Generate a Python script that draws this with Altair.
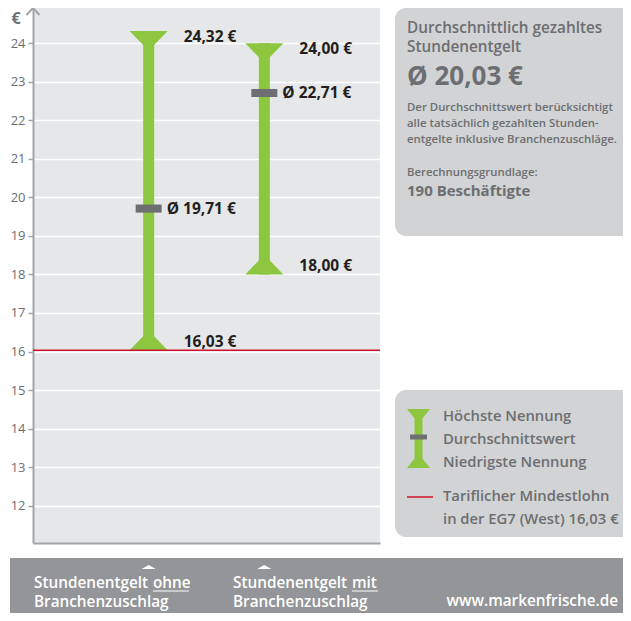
import altair as alt
import pandas as pd

# ---------------- data ----------------
categories = ["Stundenentgelt ohne Branchenzuschlag", "Stundenentgelt mit Branchenzuschlag"]
positions = [1, 2]
highest = [24.32, 24.00]
lowest = [16.03, 18.00]
average = [19.71, 22.71]
high_labels = ["24,32 €", "24,00 €"]
low_labels = ["16,03 €", "18,00 €"]
avg_labels = ["Ø 19,71 €", "Ø 22,71 €"]
min_wage = [16.03]
y_ticks = [12, 13, 14, 15, 16, 17, 18, 19, 20, 21, 22, 23, 24]

df = pd.DataFrame({
    "cat": categories, "pos": positions, "high": highest, "low": lowest,
    "avg": average, "hl": high_labels, "ll": low_labels, "al": avg_labels,
})
wage_df = pd.DataFrame({"wage": min_wage})
one = pd.DataFrame({"a": [0]})

# ---------------- styles ----------------
GREEN = "#8dc63f"
GREY_TXT = "#6d6e71"
DARK = "#231f20"
PLOT_BG = "#e6e7e8"
BOX = "#d1d3d4"
BAND = "#939598"
AXIS = "#a2a4a7"
RED = "#d0112b"
FONT = "Open Sans"

W, H = 347, 535

xscale = alt.Scale(domain=[0, 3], nice=False, zero=False)
yscale = alt.Scale(domain=[11.03, 24.916], nice=False, zero=False)

XAXIS = alt.Axis(title=None, labels=False, ticks=False, grid=False,
                 domain=True, domainColor=AXIS, domainWidth=2)
YAXIS = alt.Axis(title=None, values=y_ticks, grid=True, gridColor="white",
                 gridWidth=1.5, domainColor=AXIS, domainWidth=2,
                 tickColor=AXIS, tickSize=5, tickWidth=1.5,
                 labelColor=GREY_TXT, labelFont=FONT, labelFontSize=13,
                 labelPadding=3)


def X():
    return alt.X("pos:Q", scale=xscale, axis=XAXIS)


def Y(field):
    return alt.Y(field, scale=yscale, axis=YAXIS)


TOP_TRI = "M-1,0L1,0L0.29,0.74L-0.29,0.74Z"
BOT_TRI = "M-1,0L1,0L0.29,-0.74L-0.29,-0.74Z"
MEAN_RECT = "M-1,-0.31L1,-0.31L1,0.31L-1,0.31Z"

base = alt.Chart(df)

stems = base.mark_rule(color=GREEN, strokeWidth=11).encode(
    x=X(), y=Y("low:Q"), y2="high:Q")
top_tri = base.mark_point(shape=TOP_TRI, size=1444, filled=True, opacity=1,
                          color=GREEN, strokeWidth=0).encode(x=X(), y=Y("high:Q"))
bot_tri = base.mark_point(shape=BOT_TRI, size=1444, filled=True, opacity=1,
                          color=GREEN, strokeWidth=0).encode(x=X(), y=Y("low:Q"))
mean_mark = base.mark_point(shape=MEAN_RECT, size=676, filled=True, opacity=1,
                            color=GREY_TXT, strokeWidth=0).encode(x=X(), y=Y("avg:Q"))

lbl = dict(font=FONT, fontSize=15.5, fontWeight="bold", color=DARK,
           align="left", baseline="middle")
high_txt = base.mark_text(dx=35, dy=6, **lbl).encode(x=X(), y=Y("high:Q"), text="hl:N")
low_txt = base.mark_text(dx=35, dy=-8, **lbl).encode(x=X(), y=Y("low:Q"), text="ll:N")
avg_txt = base.mark_text(dx=18, dy=0, **lbl).encode(x=X(), y=Y("avg:Q"), text="al:N")

wage_rule = alt.Chart(wage_df).mark_rule(color=RED, strokeWidth=1.5).encode(
    y=Y("wage:Q"))

# axis arrow
arrow = alt.Chart(one).mark_point(
    shape="M-1,1.08L0,0L1,1.08", size=169, filled=False, opacity=1,
    color=AXIS, strokeWidth=2).encode(x=alt.value(0), y=alt.value(0))


def note(text, x, y, size, weight="normal", color=GREY_TXT, align="left",
         baseline="middle"):
    return alt.Chart(one).mark_text(
        text=text, font=FONT, fontSize=size, fontWeight=weight, color=color,
        align=align, baseline=baseline).encode(x=alt.value(x), y=alt.value(y))


def box(x, x2, y, y2, color, radius=0):
    kw = dict(color=color)
    if radius:
        kw["cornerRadius"] = radius
    return alt.Chart(one).mark_rect(**kw).encode(
        x=alt.value(x), x2=alt.value(x2), y=alt.value(y), y2=alt.value(y2))


euro = note("€", -17, 16, 16, "bold", align="center", baseline="alphabetic")

# info box
box1 = box(362, 640, 0, 228, BOX, 11)
info = [
    note("Durchschnittlich gezahltes", 374, 20, 15.3, 600),
    note("Stundenentgelt", 374, 39, 15.3, 600),
    note("Ø 20,03 €", 374, 69, 26, "bold"),
    note("Der Durchschnittswert berücksichtigt", 374, 100, 11.4, 600),
    note("alle tatsächlich gezahlten Stunden-", 374, 116, 11.4, 600),
    note("entgelte inklusive Branchenzuschläge.", 374, 132, 11.4, 600),
    note("Berechnungsgrundlage:", 374, 165, 11.4, 600),
    note("190 Beschäftigte", 374, 183, 15, "bold"),
]

# legend box
box2 = box(362, 640, 382, 529, BOX, 11)
leg_stem = alt.Chart(one).mark_rule(color=GREEN, strokeWidth=8).encode(
    x=alt.value(385.5), y=alt.value(402), y2=alt.value(459))
leg_top = alt.Chart(one).mark_point(
    shape="M-1,0L1,0L0.35,0.8L-0.35,0.8Z", size=529, filled=True, opacity=1,
    color=GREEN, strokeWidth=0).encode(x=alt.value(385.5), y=alt.value(401))
leg_bot = alt.Chart(one).mark_point(
    shape="M-1,0L1,0L0.35,-0.8L-0.35,-0.8Z", size=529, filled=True, opacity=1,
    color=GREEN, strokeWidth=0).encode(x=alt.value(385.5), y=alt.value(460))
leg_mean = box(377, 394, 426.5, 431.5, GREY_TXT)
leg_red = alt.Chart(one).mark_rule(color=RED, strokeWidth=1.5).encode(
    x=alt.value(374), x2=alt.value(400), y=alt.value(489))
legend = [
    note("Höchste Nennung", 410, 409, 14.8, 600),
    note("Durchschnittswert", 410, 432, 14.8, 600),
    note("Niedrigste Nennung", 410, 455, 14.8, 600),
    note("Tariflicher Mindestlohn", 410, 489, 14.8, 600),
    note("in der EG7 (West) 16,03 €", 410, 512, 14.8, 600),
]

# bottom band
band = box(-23, 640, 550, 620, BAND)
band_tri = base.mark_point(shape="M-1,0.3L0,-0.3L1,0.3Z", size=196, filled=True,
                           opacity=1, color="white", strokeWidth=0).encode(
    x=X(), y=alt.value(559))
BS = 15.3
band_txt = [
    note("Stundenentgelt", 1, 580, BS, 600, "white", baseline="alphabetic"),
    note("ohne", 120, 580, BS, 600, "white", baseline="alphabetic"),
    note("Branchenzuschlag", 1, 599, BS, 600, "white", baseline="alphabetic"),
    note("Stundenentgelt", 200, 580, BS, 600, "white", baseline="alphabetic"),
    note("mit", 319, 580, BS, 600, "white", baseline="alphabetic"),
    note("Branchenzuschlag", 200, 599, BS, 600, "white", baseline="alphabetic"),
    note("www.markenfrische.de", 585, 598, BS, 600, "white", align="right",
         baseline="alphabetic"),
]
underline1 = alt.Chart(one).mark_rule(color="white", strokeWidth=1).encode(
    x=alt.value(120), x2=alt.value(156), y=alt.value(583))
underline2 = alt.Chart(one).mark_rule(color="white", strokeWidth=1).encode(
    x=alt.value(319), x2=alt.value(345), y=alt.value(583))

chart = alt.layer(
    stems, top_tri, bot_tri, wage_rule, mean_mark, high_txt, low_txt, avg_txt,
    arrow, euro, box1, *info, box2, leg_stem, leg_top, leg_bot, leg_mean, leg_red,
    *legend, band, band_tri, *band_txt, underline1, underline2,
).properties(
    width=W, height=H,
    autosize=alt.AutoSizeParams(type="none"),
    padding={"left": 25, "top": 0, "right": 243, "bottom": 70},
    background="white",
).configure_view(stroke=None, fill=PLOT_BG)

chart.save("out.html", embed_options={"renderer": "svg", "actions": False})
